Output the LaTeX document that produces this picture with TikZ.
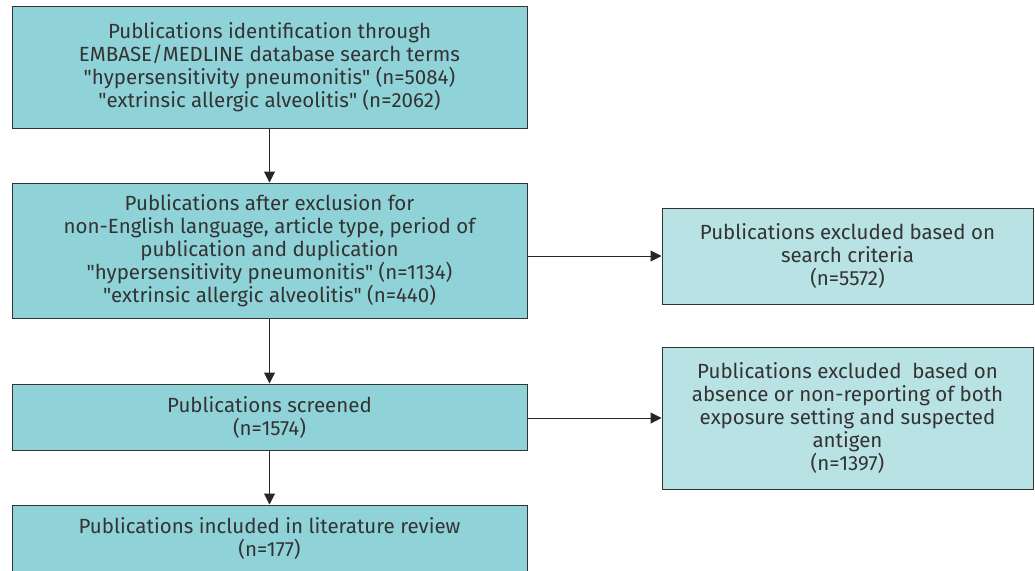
\documentclass[tikz,border=0pt]{standalone}
\usepackage{fontspec}
\setmainfont{Fira Sans}
\usetikzlibrary{arrows.meta}
\usetikzlibrary{positioning}
\definecolor{leftfill}{HTML}{8FD3D8}
\definecolor{rightfill}{HTML}{B9E2E4}
\definecolor{edgegray}{HTML}{333333}
% straight double quote, kept out of the tex-text mapping
\newcommand{\dq}{\XeTeXglyph\XeTeXglyphindex "quotedbl"\relax}
\tikzset {
  flow box/.style = {
    draw = edgegray,
    line width = 1pt,
    align = center,
    inner sep = 0pt,
    font = \fontsize{20.5}{23}\selectfont\color{black!80}
  },
  % main stream of publications
  stage/.style = {
    flow box,
    fill = leftfill,
    minimum width = 515pt
  },
  % publications left out
  excluded/.style = {
    flow box,
    fill = rightfill,
    minimum width = 371pt
  },
  link/.style = {
    draw = black!85,
    line width = 1pt,
    -{Triangle[length=11pt,width=11pt]}
  }
}

\begin{document}
\begin{tikzpicture}[x=1pt,y=-1pt]
    \useasboundingbox (0,0) rectangle (1035,570);

    \node[stage, minimum height = 122pt] (ident) at (269.5,67)
      {Publications identification through\\
       EMBASE/MEDLINE database search terms\\
       \dq hypersensitivity pneumonitis\dq{} (n=5084)\\
       \dq extrinsic allergic alveolitis\dq{} (n=2062)};
    \node[stage, minimum height = 135pt] (after) at (269.5,250.5)
      {Publications after exclusion for\\
       non-English language, article type, period of\\
       publication and duplication\\
       \dq hypersensitivity pneumonitis\dq{} (n=1134)\\
       \dq extrinsic allergic alveolitis\dq{} (n=440)};
    \node[stage, minimum height = 66pt] (screen) at (269.5,417)
      {Publications screened\\ (n=1574)};
    \node[stage, minimum height = 66pt] (incl) at (269.5,538)
      {Publications included in literature review\\ (n=177)};

    \node[excluded, minimum height = 96pt] (search) at (847.5,256)
      {Publications excluded based on\\ search criteria\\ (n=5572)};
    \node[excluded, minimum height = 142pt] (absent) at (847.5,418)
      {Publications excluded\ \ based on\\
       absence or non-reporting of both\\
       exposure setting and suspected\\
       antigen\\ (n=1397)};

    \draw[link] (ident) -- (after);
    \draw[link] (after) -- (screen);
    \draw[link] (screen) -- (incl);
    \draw[link] (after.east |- search) -- (search);
    \draw[link] (screen.east |- absent) -- (absent);
  \end{tikzpicture}
\end{document}
